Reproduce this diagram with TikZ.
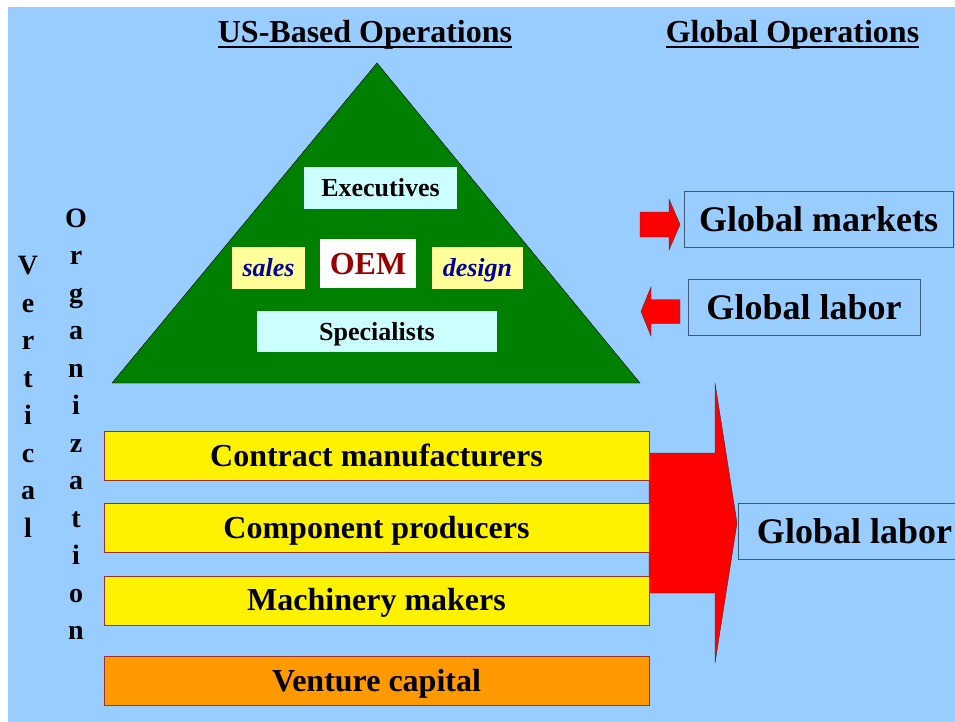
\documentclass[tikz,border=0pt]{standalone}
\usepackage{fontspec}
\setmainfont{Liberation Serif}
\usetikzlibrary{positioning}

\definecolor{bgblue}{HTML}{99CCFF}
\definecolor{pyramid}{HTML}{008000}
\definecolor{paleCyan}{HTML}{CCFFFF}
\definecolor{paleYellow}{HTML}{FFFF99}
\definecolor{navyText}{HTML}{000099}
\definecolor{oemRed}{HTML}{990000}
\definecolor{boxRed}{HTML}{993333}
\definecolor{slateLine}{HTML}{3A5A78}
\definecolor{capOrange}{HTML}{FF9900}

\newcommand{\pxfont}[1]{\fontsize{#1}{#1}\selectfont}

\begin{document}
\begin{tikzpicture}[
    x=1pt, y=-1pt,
    % --- STYLES ---
    title/.style={inner sep=0pt, font=\pxfont{32}\bfseries},
    inner/.style={
        rectangle, fill=paleCyan,
        text height=17pt, text depth=0pt,
        inner sep=0pt, font=\pxfont{26}\bfseries
    },
    side/.style={
        rectangle, fill=paleYellow, text=navyText,
        text height=17pt, text depth=0pt,
        inner sep=0pt, minimum height=42pt,
        font=\pxfont{26}\bfseries\itshape
    },
    level/.style={
        rectangle, draw=boxRed, fill=yellow,
        text height=21pt, text depth=0pt,
        minimum width=545pt, minimum height=49pt,
        inner sep=0pt, font=\pxfont{32}\bfseries
    },
    global/.style={
        rectangle, draw=slateLine, thin,
        text height=24pt, text depth=0pt,
        minimum height=56pt, inner sep=0pt,
        font=\pxfont{36}\bfseries
    },
    letters/.style={align=center, inner sep=0pt, font=\fontsize{28}{37.5}\selectfont\bfseries},
    blockarrow/.style={draw=black!80, fill=red, thin, line join=miter}
]

% ===== 1. FRAME & HEADERS =====
\useasboundingbox (0,0) rectangle (955,722);
\fill[bgblue] (8,7) rectangle (955,722);

\node[title, anchor=base] (usHead) at (365,43) {US-Based Operations};
\node[title, anchor=base] (glHead) at (792.5,43) {Global Operations};
\draw[line width=2.6pt] ([yshift=-4pt]usHead.base west) -- ([yshift=-4pt]usHead.base east);
\draw[line width=2.6pt] ([yshift=-4pt]glHead.base west) -- ([yshift=-4pt]glHead.base east);

% ===== 2. PYRAMID (OEM) =====
\draw[fill=pyramid, thin] (377,63) -- (640,383) -- (112,383) -- cycle;

\node[inner, minimum width=153pt, minimum height=42pt] (exec) at (380.5,188) {Executives};
\node[rectangle, fill=white, text=oemRed, inner sep=0pt,
      text height=21pt, text depth=0pt,
      minimum width=96pt, minimum height=49pt, font=\pxfont{32}\bfseries] (oem) at (368,263.5) {OEM};
\node[side, minimum width=73pt] (sales) at (268.5,268) {sales};
\node[side, minimum width=91pt] (design) at (477.5,268) {design};
\node[inner, minimum width=240pt, minimum height=41pt] (spec) at (377,331.5) {Specialists};

% ===== 3. SUPPLY LEVELS =====
% big arrow first, the boxes cover its left edge
\draw[blockarrow] (649,453) -- (715,453) -- (715,383) -- (737,523)
    -- (715,663) -- (715,593) -- (649,593) -- cycle;

\node[level] (contract) at (376.5,455.5) {Contract manufacturers};
\node[level, below=23pt of contract] (component) {Component producers};
\node[level, below=23pt of component] (machinery) {Machinery makers};
\node[level, fill=capOrange, below=31pt of machinery] (venture) {Venture capital};

% ===== 4. GLOBAL SIDE =====
\node[global, minimum width=269pt] (markets) at (818.5,219) {Global markets};
\node[global, minimum width=232pt] (labor) at (804,307) {Global labor};
\node[global, minimum width=233pt] (laborBig) at (854.5,531) {Global labor};

% out to markets
\draw[blockarrow] (640,212) -- (669,212) -- (669,199) -- (680,224.5)
    -- (669,250) -- (669,237) -- (640,237) -- cycle;
% labor coming in
\draw[blockarrow] (680,299.5) -- (651,299.5) -- (651,287) -- (641,311.5)
    -- (651,336) -- (651,323.5) -- (680,323.5) -- cycle;

% ===== 5. SIDE LABELS =====
\node[letters] (vert) at (28,397) {V\\e\\r\\t\\i\\c\\a\\l};
\node[letters] (orga) at (76,424) {O\\r\\g\\a\\n\\i\\z\\a\\t\\i\\o\\n};

\end{tikzpicture}
\end{document}
